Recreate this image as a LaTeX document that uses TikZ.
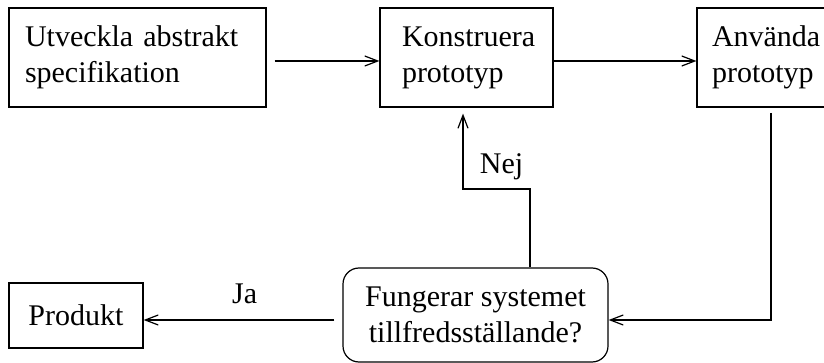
\documentclass[tikz,border=0pt]{standalone}
\usepackage{fontspec}
\setmainfont{Liberation Serif}
\usetikzlibrary{arrows.meta}
\begin{document}
\begin{tikzpicture}[x=1pt,y=-1pt,line width=1.2pt,font=\fontsize{30}{36}\selectfont,
  box/.style={draw,rectangle,minimum height=99pt,align=left,inner sep=0pt},
  arr/.style={-{Straight Barb[length=13pt,width=10pt,line width=1.2pt]}}]
\useasboundingbox (0,0) rectangle (824,363);
\clip (0,0) rectangle (824,363);
\node[box,minimum width=257pt,text width=225pt](utv) at (137.5,57.5){Utveckla abstrakt\\specifikation};
\node[box,minimum width=173pt,text width=129pt](kon) at (466.5,57.5){Konstruera\\prototyp};
\node[box,minimum width=173pt,text width=143pt](anv) at (783.5,57.5){Använda\\prototyp};
\node[draw,rounded corners=16pt,minimum width=265pt,minimum height=94pt,align=center,inner sep=0pt](fun) at (475.5,315){Fungerar systemet\\tillfredsställande?};
\node[draw,minimum width=134pt,minimum height=65pt,inner sep=0pt](pro) at (76,315.5){Produkt};
\coordinate (down) at (771,113);
\coordinate (knee) at (463,189);
\draw[arr] ([xshift=8pt,yshift=-3.5pt]utv.east) -- ([yshift=-3.5pt]kon.west);
\draw[arr] ([yshift=-3.5pt]kon.east) -- ([yshift=-3.5pt]anv.west);
\draw[arr] (down) |- ([yshift=-5pt]fun.east);
\draw[arr] ([xshift=54.5pt]fun.north) |- (knee) -- ([xshift=-3.5pt,yshift=-6pt]kon.south)node[pos=0.3,right=13pt]{Nej};
\draw[arr] ([xshift=-8pt,yshift=-5pt]fun.west) -- ([yshift=-4.5pt]pro.east)node[pos=0.47,above=12pt]{Ja};
\end{tikzpicture}
\end{document}
